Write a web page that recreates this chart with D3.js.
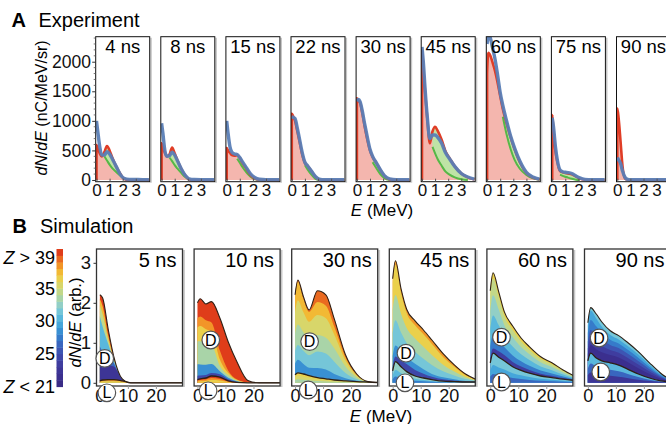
<!DOCTYPE html>
<html>
<head>
<meta charset="utf-8">
<script src="https://cdn.jsdelivr.net/npm/d3@7"></script>
<style>
  html, body { margin: 0; padding: 0; background: #fff; }
  svg { display: block; font-family: "Liberation Sans", Arial, Helvetica, sans-serif; }
</style>
</head>
<body>
<svg id="fig" width="666" height="424"></svg>
<script>
/* ---------- A: experiment data ---------- */
const expTimes = ["4 ns", "8 ns", "15 ns", "22 ns", "30 ns", "45 ns", "60 ns", "75 ns", "90 ns"];
const expE = [0, 0.1, 0.25, 0.4, 0.6, 0.8, 1.0, 1.2, 1.5, 1.8, 2.1, 2.5, 3.0, 3.5, 4.0];
const expRed = [
  [590, 540, 450, 400, 470, 575, 500, 380, 230, 110, 20, 0, 0, 0, 0],
  [620, 560, 460, 400, 430, 550, 450, 340, 190, 80, 10, 0, 0, 0, 0],
  [540, 500, 460, 420, 410, 420, 370, 290, 190, 90, 30, 5, 0, 0, 0],
  [1120, 1080, 1000, 850, 640, 430, 290, 240, 150, 55, 10, 0, 0, 0, 0],
  [1380, 1350, 1300, 1150, 900, 680, 500, 390, 280, 165, 70, 10, 0, 0, 0],
  [2180, 1900, 1450, 1050, 620, 820, 900, 830, 680, 480, 370, 230, 110, 45, 10],
  [1800, 2150, 2100, 2000, 1850, 1650, 1420, 1200, 950, 720, 520, 300, 120, 40, 10],
  [1100, 800, 480, 300, 150, 130, 120, 110, 95, 60, 25, 5, 0, 0, 0],
  [1210, 1050, 650, 230, 25, 5, 0, 0, 0, 0, 0, 0, 0, 0, 0]
];
const expGreen = [
  [null, null, null, null, 400, 330, 260, 200, 135, 75, 20, 0, null, null, null],
  [null, null, null, null, 380, 320, 250, 195, 120, 50, 5, null, null, null, null],
  [null, null, null, null, null, 360, 290, 220, 130, 60, 15, 0, null, null, null],
  [null, null, null, null, null, null, 250, 180, 90, 20, 0, null, null, null, null],
  [null, null, null, null, null, null, null, 300, 195, 95, 30, 0, null, null, null],
  [null, null, null, null, null, 560, 450, 350, 240, 140, 90, 45, 12, 0, null],
  [null, null, null, null, null, null, null, 1070, 760, 520, 340, 190, 85, 28, 5],
  [null, null, null, null, 90, 70, 55, 40, 20, 5, 0, null, null, null, null],
  [null, null, null, null, null, null, null, null, null, null, null, null, null, null, null]
];
const expBlue = [
  [1000, 820, 560, 420, 420, 480, 440, 360, 230, 100, 30, 10, 8, 6, 6],
  [960, 790, 500, 400, 410, 470, 420, 330, 190, 80, 20, 8, 6, 6, 6],
  [1000, 800, 560, 470, 440, 430, 380, 310, 210, 110, 50, 12, 6, 6, 6],
  [1080, 1060, 1040, 900, 680, 460, 300, 240, 150, 60, 15, 6, 6, 6, 6],
  [1330, 1360, 1320, 1180, 940, 720, 520, 400, 285, 170, 75, 20, 6, 6, 6],
  [2250, 2000, 1500, 1080, 700, 760, 760, 720, 620, 460, 360, 230, 110, 50, 15],
  [2300, 2450, 2400, 2250, 2050, 1780, 1480, 1260, 990, 740, 540, 320, 130, 50, 15],
  [1050, 900, 560, 330, 170, 140, 130, 125, 110, 70, 35, 10, 6, 6, 6],
  [380, 340, 280, 150, 40, 10, 6, 6, 6, 6, 6, 6, 6, 6, 6]
];
const expYTicks = [0, 500, 1000, 1500, 2000];
const expXTicks = [0, 1, 2, 3];

/* ---------- B: simulation data ---------- */
const simTimes = ["5 ns", "10 ns", "30 ns", "45 ns", "60 ns", "90 ns"];
const simE = [0, 1, 3, 5, 8, 11, 14, 18, 22, 26, 30];
const simD = [
  [2.2, 2.12, 1.33, 0.65, 0.1, 0, 0, 0, 0, 0, 0],
  [2.0, 2.1, 1.97, 2.03, 1.62, 1.02, 0.54, 0.06, 0, 0, 0],
  [2.2, 2.57, 2.15, 1.82, 2.3, 2.2, 1.6, 0.7, 0.22, 0.03, 0],
  [2.6, 3.05, 2.35, 1.84, 1.55, 1.32, 1.07, 0.73, 0.45, 0.22, 0.08],
  [2.3, 2.75, 2.28, 1.78, 1.42, 1.12, 0.9, 0.65, 0.5, 0.32, 0.17],
  [1.5, 1.88, 1.72, 1.52, 1.3, 1.18, 1.02, 0.78, 0.5, 0.24, 0.05]
];
const simL = [
  [0.05, 0.07, 0.08, 0.08, 0.05, 0, 0, 0, 0, 0, 0],
  [0.08, 0.1, 0.12, 0.17, 0.14, 0.05, 0.01, 0, 0, 0, 0],
  [0.2, 0.25, 0.22, 0.18, 0.13, 0.1, 0.07, 0.05, 0.03, 0.02, 0.01],
  [0.3, 0.53, 0.4, 0.28, 0.17, 0.12, 0.08, 0.04, 0.03, 0.02, 0.02],
  [0.5, 0.74, 0.64, 0.55, 0.4, 0.31, 0.24, 0.17, 0.13, 0.09, 0.06],
  [0.55, 0.74, 0.62, 0.55, 0.5, 0.44, 0.35, 0.22, 0.12, 0.05, 0.02]
];
// charge state of each colour layer in the D region, bottom to top
const simDZ = [
  [22, 26, 30, 34, 37, 40],
  [24, 28, 33, 36, 38, 40],
  [28, 31, 33, 35, 37, 39],
  [24, 28, 31, 33, 36, 38],
  [23, 27, 30, 32, 34, 36],
  [21, 23, 25, 27, 29, 31]
];
// upper edge of each layer as a fraction of the D-L thickness (top layer runs to 1)
const simDFrac = [
  [[0.2, 0.15, 0.28, 0.57, 0.6, 0.6, 0.6, 0.6, 0.6, 0.6, 0.6],
   [0.4, 0.35, 0.52, 0.72, 0.74, 0.74, 0.74, 0.74, 0.74, 0.74, 0.74],
   [0.75, 0.65, 0.71, 0.83, 0.84, 0.84, 0.84, 0.84, 0.84, 0.84, 0.84],
   [0.88, 0.8, 0.8, 0.88, 0.88, 0.88, 0.88, 0.88, 0.88, 0.88, 0.88],
   [0.95, 0.9, 0.88, 0.93, 0.93, 0.93, 0.93, 0.93, 0.93, 0.93, 0.93]],
  [[0.05, 0.04, 0.04, 0.04, 0.05, 0.04, 0.03, 0.03, 0.03, 0.03, 0.03],
   [0.2, 0.18, 0.18, 0.16, 0.1, 0.08, 0.06, 0.06, 0.06, 0.06, 0.06],
   [0.5, 0.47, 0.47, 0.42, 0.19, 0.14, 0.09, 0.09, 0.09, 0.09, 0.09],
   [0.68, 0.66, 0.66, 0.6, 0.3, 0.2, 0.12, 0.12, 0.12, 0.12, 0.12],
   [0.8, 0.78, 0.78, 0.72, 0.45, 0.26, 0.15, 0.15, 0.15, 0.15, 0.15]],
  [[0.14, 0.14, 0.13, 0.12, 0.11, 0.11, 0.1, 0.1, 0.1, 0.1, 0.1],
   [0.3, 0.3, 0.3, 0.31, 0.3, 0.3, 0.3, 0.3, 0.3, 0.3, 0.3],
   [0.52, 0.52, 0.54, 0.57, 0.49, 0.49, 0.52, 0.55, 0.55, 0.55, 0.55],
   [0.78, 0.78, 0.8, 0.82, 0.72, 0.72, 0.74, 0.78, 0.78, 0.78, 0.78],
   [0.98, 0.98, 0.97, 0.97, 0.87, 0.87, 0.87, 0.9, 0.9, 0.9, 0.9]],
  [[0.05, 0.05, 0.08, 0.12, 0.11, 0.09, 0.07, 0.07, 0.07, 0.07, 0.07],
   [0.16, 0.16, 0.2, 0.23, 0.22, 0.18, 0.14, 0.14, 0.14, 0.14, 0.14],
   [0.41, 0.41, 0.44, 0.46, 0.44, 0.4, 0.37, 0.36, 0.36, 0.36, 0.36],
   [0.66, 0.66, 0.68, 0.7, 0.68, 0.65, 0.62, 0.6, 0.6, 0.6, 0.6],
   [0.96, 0.96, 0.95, 0.94, 0.92, 0.91, 0.9, 0.88, 0.88, 0.88, 0.88]],
  [[0.06, 0.06, 0.09, 0.12, 0.12, 0.12, 0.12, 0.12, 0.12, 0.12, 0.12],
   [0.23, 0.23, 0.26, 0.28, 0.28, 0.28, 0.28, 0.28, 0.28, 0.28, 0.28],
   [0.47, 0.47, 0.49, 0.5, 0.5, 0.5, 0.5, 0.5, 0.5, 0.5, 0.5],
   [0.72, 0.72, 0.73, 0.73, 0.73, 0.72, 0.72, 0.72, 0.72, 0.72, 0.72],
   [0.93, 0.93, 0.92, 0.91, 0.9, 0.89, 0.88, 0.88, 0.88, 0.88, 0.88]],
  [[0.18, 0.18, 0.2, 0.22, 0.24, 0.26, 0.26, 0.26, 0.26, 0.26, 0.26],
   [0.33, 0.33, 0.36, 0.38, 0.4, 0.42, 0.42, 0.42, 0.42, 0.42, 0.42],
   [0.51, 0.51, 0.53, 0.55, 0.56, 0.58, 0.58, 0.58, 0.58, 0.58, 0.58],
   [0.73, 0.73, 0.72, 0.72, 0.72, 0.73, 0.73, 0.73, 0.73, 0.73, 0.73],
   [0.93, 0.93, 0.9, 0.88, 0.87, 0.87, 0.87, 0.87, 0.87, 0.87, 0.87]]
];
const simLZ = [[35, 37, 39], [36, 38, 40], [33, 35, 36], [27, 30, 32], [26, 29, 31], [22, 26, 30]];
const simLFrac = [[0.4, 0.75], [0.4, 0.7], [0.35, 0.7], [0.3, 0.6], [0.3, 0.6], [0.35, 0.65]];
const simDLabel = [[1.75, 0.61], [4.75, 1.07], [5.2, 1.03], [4.75, 0.74], [4.0, 1.14], [4.0, 1.12]];
const simLLabel = [[2.5, -0.25], [3.8, -0.2], [4.7, -0.18], [4.4, 0.0], [4.0, 0.02], [4.6, 0.27]];
const simXTicks = [0, 10, 20];
const simYTicks = [0, 1, 2, 3];

/* colour bar: one step per charge state */
const zLevels = [20, 21, 22, 23, 24, 25, 26, 27, 28, 29, 30, 31, 32, 33, 34, 35, 36, 37, 38, 39, 40];
const zColors = ["#3a2c86", "#3b2f8e", "#3d3596", "#3f3d9f", "#3f47a8", "#3d55b3", "#3966bf",
  "#367bca", "#3990d3", "#45a6da", "#5ab8dc", "#75c6d8", "#92cfc6", "#a9d4a8", "#c2d889",
  "#d8d66a", "#ead04c", "#f2b934", "#f29528", "#ea6a20", "#df3d1a"];
const zTickValues = [20, 25, 30, 35, 39.6];
const zTickLabels = ["< 21", "25", "30", "35", "> 39"];

const zColor = z => zColors[zLevels.indexOf(z)];

const fig = d3.select("#fig");

/* ================= A: Experiment ================= */
fig.append("text").attr("x", 11.5).attr("y", 26.7).attr("font-size", 20).attr("font-weight", "bold").text("A");
fig.append("text").attr("x", 38.5).attr("y", 26.7).attr("font-size", 20).text("Experiment");

const expLeft0 = 95.7, expStep = 65.1, expW = 54, expTop = 36.7, expBot = 181.7;
const ex = d3.scaleLinear().domain([-0.06, 4.06]).range([0, expW]);
const ey = d3.scaleLinear().domain([-29, 2423]).range([expBot, expTop]);

const defs = fig.append("defs");

expTimes.forEach((label, p) => {
  const g = fig.append("g").attr("transform", `translate(${expLeft0 + p * expStep},0)`);
  defs.append("clipPath").attr("id", "ec" + p)
    .append("rect").attr("x", 0).attr("y", expTop).attr("width", expW).attr("height", expBot - expTop);

  const pts = expE.map((e, i) => ({ e, r: expRed[p][i], g: expGreen[p][i], b: expBlue[p][i] }));
  const plot = g.append("g").attr("clip-path", `url(#ec${p})`);

  plot.append("path").datum(pts)
    .attr("d", d3.area().curve(d3.curveMonotoneX).x(d => ex(d.e)).y0(ey(0)).y1(d => ey(d.r)))
    .attr("fill", "#f4b6ae");

  plot.append("path").datum(pts)
    .attr("d", d3.area().curve(d3.curveMonotoneX).defined(d => d.g !== null)
      .x(d => ex(d.e)).y0(d => ey(d.g)).y1(d => ey(d.r)))
    .attr("fill", "#bfe3a6");

  plot.append("path").datum(pts)
    .attr("d", d3.line().curve(d3.curveMonotoneX).defined(d => d.g !== null).x(d => ex(d.e)).y(d => ey(d.g)))
    .attr("fill", "none").attr("stroke", "#56b847").attr("stroke-width", 2);

  const redPts = [{ e: expE[0], r: 0 }].concat(pts);
  plot.append("path").datum(redPts)
    .attr("d", d3.line().curve(d3.curveMonotoneX).x(d => ex(d.e)).y(d => ey(d.r)))
    .attr("fill", "none").attr("stroke", "#e03d26").attr("stroke-width", 2.6);

  plot.append("path").datum(pts)
    .attr("d", d3.line().curve(d3.curveMonotoneX).x(d => ex(d.e)).y(d => ey(d.b)))
    .attr("fill", "none").attr("stroke", "#5a7eb6").attr("stroke-width", 3.4)
    .attr("stroke-linejoin", "round").attr("opacity", 0.95);

  // frame with faint shadow on the right
  g.append("line").attr("x1", expW + 1.3).attr("x2", expW + 1.3).attr("y1", expTop + 1).attr("y2", expBot + 1)
    .attr("stroke", "#c6c6c6").attr("stroke-width", 1.6);
  g.append("rect").attr("x", 0).attr("y", expTop).attr("width", expW).attr("height", expBot - expTop)
    .attr("fill", "none").attr("stroke", "#111").attr("stroke-width", 1);

  g.append("text").attr("x", expW / 2).attr("y", 53).attr("text-anchor", "middle")
    .attr("font-size", 18.5).text(label);

  const xa = g.append("g").attr("transform", `translate(0,${expBot})`)
    .call(d3.axisBottom(ex).tickValues(expXTicks).tickSize(-3).tickPadding(2.5).tickFormat(d3.format("d")));
  xa.attr("font-family", null);
  xa.select(".domain").remove();
  xa.selectAll(".tick line").attr("stroke", "#555");
  xa.selectAll("text").attr("font-size", 17).attr("fill", "#111");
});

// y axis of the first experimental panel
const eya = fig.append("g").attr("transform", `translate(${expLeft0},0)`)
  .call(d3.axisLeft(ey).tickValues(expYTicks).tickSize(3.5).tickPadding(1.2).tickFormat(d3.format("d")));
eya.attr("font-family", null);
eya.select(".domain").remove();
eya.selectAll(".tick line").attr("stroke", "#333");
eya.selectAll("text").attr("font-size", 17.5).attr("fill", "#111");
eya.selectAll(".minor").data(d3.range(0, 2401, 100).filter(v => v % 500 !== 0)).join("line")
  .attr("x1", -2).attr("x2", 0).attr("y1", d => ey(d)).attr("y2", d => ey(d))
  .attr("stroke", "#555").attr("stroke-width", 0.8);

fig.append("text").attr("transform", "translate(47,108) rotate(-90)").attr("text-anchor", "middle")
  .attr("font-size", 16)
  .call(t => {
    t.append("tspan").attr("font-style", "italic").text("dN");
    t.append("tspan").text("/");
    t.append("tspan").attr("font-style", "italic").text("dE");
    t.append("tspan").text(" (nC/MeV/sr)");
  });

fig.append("text").attr("x", 382).attr("y", 215.8).attr("text-anchor", "middle").attr("font-size", 17)
  .call(t => {
    t.append("tspan").attr("font-style", "italic").text("E");
    t.append("tspan").text(" (MeV)");
  });

/* ================= B: Simulation ================= */
fig.append("text").attr("x", 12.5).attr("y", 232.7).attr("font-size", 20).attr("font-weight", "bold").text("B");
fig.append("text").attr("x", 40).attr("y", 232.7).attr("font-size", 20).text("Simulation");

const simLeft0 = 96.5, simStep = 97.6, simW = 86, simTop = 249, simBot = 386;
const sx = d3.scaleLinear().domain([-1.2, 29.5]).range([0, simW]);
const sy = d3.scaleLinear().domain([-0.08, 3.345]).range([simBot, simTop]);

simTimes.forEach((label, p) => {
  const g = fig.append("g").attr("transform", `translate(${simLeft0 + p * simStep},0)`);
  defs.append("clipPath").attr("id", "sc" + p)
    .append("rect").attr("x", 0).attr("y", simTop).attr("width", simW).attr("height", simBot - simTop);
  const plot = g.append("g").attr("clip-path", `url(#sc${p})`);

  const D = simD[p], L = simL[p];
  const area = d3.area().curve(d3.curveMonotoneX).x((d, i) => sx(simE[i])).y0(sy(0)).y1(d => sy(d));

  // D layers, top layer first so lower layers paint over it
  const nD = simDZ[p].length;
  for (let k = nD - 1; k >= 0; k--) {
    const vals = simE.map((e, i) => {
      const f = k === nD - 1 ? 1 : simDFrac[p][k][i];
      return L[i] + (D[i] - L[i]) * f;
    });
    plot.append("path").datum(vals).attr("d", area).attr("fill", zColor(simDZ[p][k]));
  }
  // L layers
  const nL = simLZ[p].length;
  for (let k = nL - 1; k >= 0; k--) {
    const vals = simE.map((e, i) => L[i] * (k === nL - 1 ? 1 : simLFrac[p][k]));
    plot.append("path").datum(vals).attr("d", area).attr("fill", zColor(simLZ[p][k]));
  }

  const line = d3.line().curve(d3.curveMonotoneX).x((d, i) => sx(simE[i])).y(d => sy(d));
  plot.append("path").datum(D).attr("d", line).attr("fill", "none").attr("stroke", "#2e2016").attr("stroke-width", 1.1);
  plot.append("path").datum(L).attr("d", line).attr("fill", "none").attr("stroke", "#2e2016").attr("stroke-width", 1.3);

  g.append("line").attr("x1", simW + 1.5).attr("x2", simW + 1.5).attr("y1", simTop + 1).attr("y2", simBot + 1)
    .attr("stroke", "#c8c8c8").attr("stroke-width", 1.8);
  g.append("rect").attr("x", 0).attr("y", simTop).attr("width", simW).attr("height", simBot - simTop)
    .attr("fill", "none").attr("stroke", "#333").attr("stroke-width", 1.3);

  g.append("text").attr("x", simW - 6).attr("y", 267.3).attr("text-anchor", "end")
    .attr("font-size", 20).text(label);

  const xa = g.append("g").attr("transform", `translate(0,${simBot})`)
    .call(d3.axisBottom(sx).tickValues(simXTicks).tickSize(3).tickPadding(0).tickFormat(d3.format("d")));
  xa.attr("font-family", null);
  xa.select(".domain").remove();
  xa.selectAll(".tick line").attr("stroke", "#999");
  xa.selectAll("text").attr("font-size", 18).attr("fill", "#111");

  // D / L markers
  [[simDLabel[p], "D"], [simLLabel[p], "L"]].forEach(([pos, txt]) => {
    const m = g.append("g").attr("transform", `translate(${sx(pos[0])},${sy(pos[1])})`);
    m.append("circle").attr("r", 8.8).attr("fill", "#fff").attr("stroke", "#555").attr("stroke-width", 1.2);
    m.append("text").attr("text-anchor", "middle").attr("y", 5.6).attr("font-size", 16).text(txt);
  });
});

const sya = fig.append("g").attr("transform", `translate(${simLeft0},0)`)
  .call(d3.axisLeft(sy).tickValues(simYTicks).tickSize(3).tickPadding(2.5).tickFormat(d3.format("d")));
sya.attr("font-family", null);
sya.select(".domain").remove();
sya.selectAll(".tick line").attr("stroke", "#333");
sya.selectAll("text").attr("font-size", 18.5).attr("fill", "#111");

fig.append("text").attr("transform", "translate(80.5,322.5) rotate(-90)").attr("text-anchor", "middle")
  .attr("font-size", 16.5)
  .call(t => {
    t.append("tspan").attr("font-style", "italic").text("dN");
    t.append("tspan").text("/");
    t.append("tspan").attr("font-style", "italic").text("dE");
    t.append("tspan").text(" (arb.)");
  });

fig.append("text").attr("x", 381).attr("y", 421.5).attr("text-anchor", "middle").attr("font-size", 17)
  .call(t => {
    t.append("tspan").attr("font-style", "italic").text("E");
    t.append("tspan").text(" (MeV)");
  });

/* colour bar */
const zs = d3.scaleLinear().domain([20, 41]).range([386.7, 249]);
fig.append("g").selectAll("rect").data(zLevels).join("rect")
  .attr("x", 56.5).attr("width", 6.5)
  .attr("y", d => zs(d + 1)).attr("height", d => zs(d) - zs(d + 1) + 0.4)
  .attr("fill", d => zColor(d));

fig.append("g").selectAll("text").data(zTickValues).join("text")
  .attr("x", 55).attr("y", d => zs(d) + 6.3).attr("text-anchor", "end").attr("font-size", 18)
  .each(function (d, i) {
    const t = d3.select(this);
    const lab = zTickLabels[i];
    if (lab.startsWith("<") || lab.startsWith(">")) {
      t.append("tspan").attr("font-style", "italic").text("Z ");
      t.append("tspan").text(lab);
    } else {
      t.text(lab);
    }
  });
</script>
</body>
</html>
